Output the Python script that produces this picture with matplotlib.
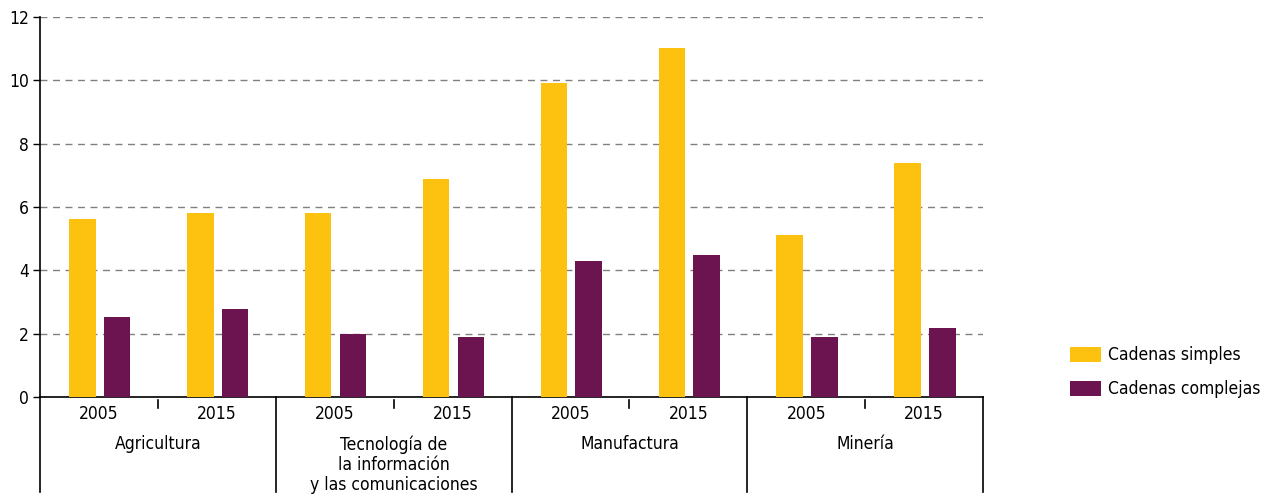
import matplotlib
matplotlib.use("Agg")
import matplotlib.pyplot as plt
import matplotlib.transforms as mtransforms
from matplotlib.lines import Line2D
from matplotlib import font_manager
import numpy as np

names = {f.name for f in font_manager.fontManager.ttflist}
if 'Liberation Sans Narrow' in names:
    plt.rcParams['font.family'] = ['Liberation Sans Narrow', 'DejaVu Sans']
else:
    plt.rcParams['font.family'] = ['DejaVu Sans']
    plt.rcParams['font.stretch'] = 'condensed'

sectors = ["Agricultura", "Tecnología de\nla información\ny las comunicaciones", "Manufactura", "Minería"]
years = ["2005", "2015"]
simples = [5.62, 5.81, 5.81, 6.88, 9.93, 11.02, 5.12, 7.39]
complejas = [2.53, 2.77, 2.00, 1.88, 4.29, 4.48, 1.88, 2.19]
yticks = [0, 2, 4, 6, 8, 10, 12]

yellow = "#FDC110"
purple = "#6B1450"
fs = 12.5

fig = plt.figure(figsize=(12.74, 4.97), dpi=100)
ax = fig.add_axes([40/1274, 1-397/497, (983-40)/1274, (397-17)/497])

x = np.arange(len(simples))
w = 0.225
ax.bar(x - 0.14, simples, width=w, color=yellow, label="Cadenas simples", zorder=3)
ax.bar(x + 0.155, complejas, width=w, color=purple, label="Cadenas complejas", zorder=3)

ax.set_xlim(-0.5, len(simples) - 0.5)
ax.set_ylim(0, 12)
ax.set_yticks(yticks)
ax.set_yticklabels([str(v) for v in yticks], fontsize=fs)
ax.tick_params(axis='y', direction='out', length=5, width=1, color='black', pad=3)
ax.yaxis.grid(True, linestyle=(0, (5, 4)), color='#808080', linewidth=1)
ax.set_axisbelow(True)

for s in ['top', 'right']:
    ax.spines[s].set_visible(False)
ax.spines['left'].set_color('black')
ax.spines['bottom'].set_color('black')
ax.spines['left'].set_linewidth(1.2)
ax.spines['bottom'].set_linewidth(1.2)

year_labels = [years[i % 2] for i in range(len(simples))]
ax.set_xticks(x)
ax.set_xticklabels(year_labels, fontsize=fs)
ax.tick_params(axis='x', length=0, pad=6)

trans = mtransforms.blended_transform_factory(ax.transData, ax.transAxes)
ngroups = len(sectors)
for g in range(ngroups):
    xm = 2 * g + 0.5
    ax.add_line(Line2D([xm, xm], [-0.008, -0.03], transform=trans, color='black', lw=1.2, clip_on=False))
for g in range(ngroups + 1):
    xs = 2 * g - 0.5
    ax.add_line(Line2D([xs, xs], [0, -0.25], transform=trans, color='black', lw=1.2, clip_on=False))
for g, name in enumerate(sectors):
    ax.text(2 * g + 0.5, -0.1, name, transform=trans, ha='center', va='top',
            fontsize=fs, linespacing=1.15)

fig.legend(loc='upper left', bbox_to_anchor=(1070/1274, 1-346/497), frameon=False,
           fontsize=fs, handlelength=1.8, handleheight=0.95, handletextpad=0.4,
           labelspacing=0.95, borderpad=0, borderaxespad=0)

fig.savefig("out.png", dpi=100)
